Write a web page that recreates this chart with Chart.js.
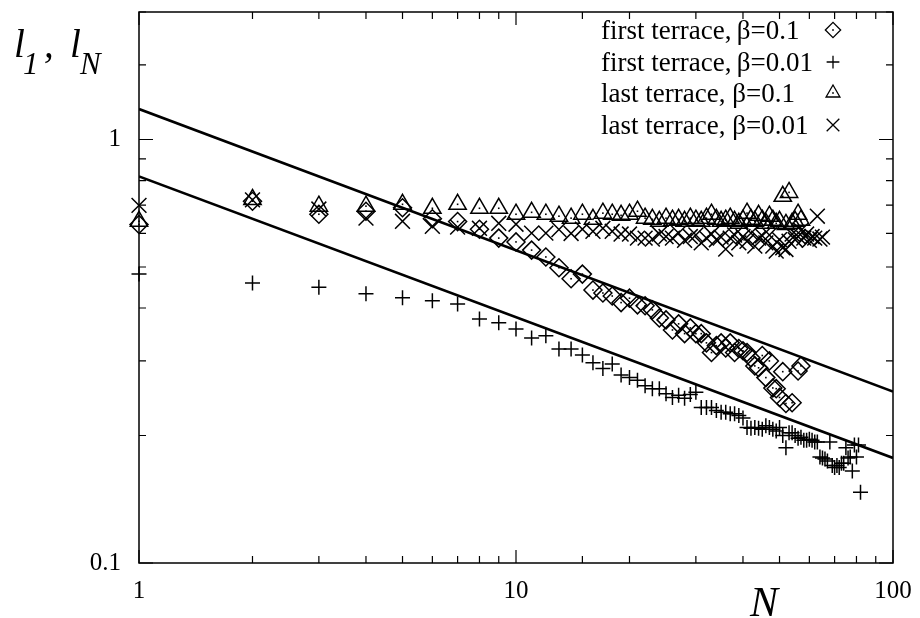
<!DOCTYPE html>
<html>
<head>
<meta charset="utf-8">
<script src="https://cdn.jsdelivr.net/npm/chart.js@4.4.0/dist/chart.umd.min.js"></script>
<style>
  html, body { margin: 0; padding: 0; background: #fff; }
</style>
</head>
<body>
<canvas id="myChart" width="920" height="618"></canvas>
<script>
// values indexed by N-1 (N = 1, 2, 3, ...), null where no point is visible
const firstB01 = [0.63, 0.715, 0.666, 0.677, 0.69, 0.65, 0.64, 0.614, 0.585, 0.573,
  0.548, 0.528, 0.498, 0.469, 0.481, 0.441, 0.434, 0.427, 0.412, 0.422,
  0.407, 0.405, 0.396, 0.379, 0.375, 0.355, 0.367, 0.348, 0.359, 0.348,
  0.348, 0.331, 0.314, 0.326, 0.331, 0.322, 0.331, 0.314, 0.321, 0.317,
  0.314, 0.305, 0.292, 0.289, 0.309, 0.274, 0.300, 0.259, 0.258, 0.246,
  0.283, 0.238, null, 0.239, null, 0.284, 0.292];

const firstB001 = [0.481, 0.458, 0.448, 0.432, 0.423, 0.416, 0.409, 0.377, 0.369, 0.357,
  0.340, 0.344, 0.320, 0.320, 0.310, 0.297, 0.288, 0.295, 0.278, 0.274,
  0.270, 0.262, 0.258, 0.258, 0.251, 0.246, 0.249, 0.245, 0.250, 0.253,
  0.233, 0.233, 0.233, 0.229, 0.227, 0.227, 0.225, 0.225, 0.223, 0.220,
  0.209, 0.208, 0.209, 0.208, 0.207, 0.211, 0.209, 0.207, 0.205, 0.209,
  0.200, 0.187, 0.203, 0.203, 0.200, 0.197, 0.198, 0.195, 0.195, 0.196,
  0.195, 0.193, 0.193, 0.178, 0.177, 0.176, 0.174, 0.193, 0.170, 0.168,
  0.170, 0.168, 0.172, 0.172, 0.187, 0.177, 0.178, 0.165, 0.190, 0.178,
  0.190, 0.147];

const lastB01 = [0.641, 0.722, 0.696, 0.696, 0.703, 0.688, 0.703, 0.688, 0.688, 0.666,
  0.673, 0.666, 0.659, 0.652, 0.666, 0.648, 0.670, 0.666, 0.662, 0.666,
  0.677, 0.652, 0.648, 0.641, 0.652, 0.645, 0.648, 0.641, 0.652, 0.645,
  0.641, 0.652, 0.666, 0.648, 0.641, 0.645, 0.652, 0.641, 0.634, 0.645,
  0.670, 0.648, 0.641, 0.662, 0.645, 0.634, 0.659, 0.645, 0.634, 0.641,
  0.734, 0.630, 0.750, 0.634, 0.641, 0.666, 0.645];

const lastB001 = [0.699, 0.720, 0.685, 0.652, 0.641, 0.624, 0.621, 0.617, 0.634, 0.631,
  0.601, 0.601, 0.613, 0.600, 0.614, 0.607, 0.617, 0.607, 0.598, 0.598,
  0.585, 0.585, 0.582, 0.598, 0.590, 0.585, 0.601, 0.578, 0.590, 0.595,
  0.570, 0.585, 0.598, 0.580, 0.588, 0.551, 0.585, 0.595, 0.570, 0.590,
  0.575, 0.601, 0.560, 0.585, 0.592, 0.570, 0.595, 0.560, 0.545, 0.580,
  0.555, 0.550, 0.575, 0.598, 0.580, 0.590, 0.610, 0.585, 0.598, 0.578,
  0.590, 0.585, 0.659, 0.582, 0.588];

// two power-law guide lines, read at N = 1 and N = 100
const fitN = [1, 100];
const fitUpper = [1.18, 0.254];
const fitLower = [0.818, 0.177];

const legendLabels = ["first terrace,\u2009\u03b2=0.1", "first terrace,\u2009\u03b2=0.01",
  "last terrace, \u03b2=0.1", "last terrace, \u03b2=0.01"];

const serif = "'Liberation Serif', 'Times New Roman', serif";

function toPoints(arr) {
  return arr.map((v, i) => (v == null ? null : { x: i + 1, y: v })).filter(p => p);
}
function isDecade(v) {
  const l = Math.log10(v);
  return Math.abs(l - Math.round(l)) < 1e-9;
}

const markerSets = [
  { label: legendLabels[0], data: toPoints(firstB01), pointStyle: "rectRot", pointRadius: 9, centerDot: true },
  { label: legendLabels[1], data: toPoints(firstB001), pointStyle: "cross", pointRadius: 7.5 },
  { label: legendLabels[2], data: toPoints(lastB01), pointStyle: "triangle", pointRadius: 10, centerDot: true },
  { label: legendLabels[3], data: toPoints(lastB001), pointStyle: "crossRot", pointRadius: 10.5 },
].map(d => Object.assign({
  showLine: false,
  borderColor: "#000",
  backgroundColor: "rgba(0,0,0,0)",
  pointBorderWidth: 1.5,
  pointHoverRadius: 0,
  clip: false,
}, d));

const fitSets = [fitUpper, fitLower].map(vals => ({
  label: "",
  data: fitN.map((n, i) => ({ x: n, y: vals[i] })),
  showLine: true,
  borderColor: "#000",
  borderWidth: 2.6,
  pointRadius: 0,
}));

// frame, inward ticks, axis titles, legend and centre dots
const decorations = {
  id: "decorations",
  afterDatasetsDraw(chart) {
    const ctx = chart.ctx;
    ctx.save();
    ctx.fillStyle = "#000";
    chart.data.datasets.forEach((ds, i) => {
      if (!ds.centerDot) return;
      chart.getDatasetMeta(i).data.forEach(el => ctx.fillRect(el.x - 0.8, el.y - 0.8, 1.6, 1.6));
    });
    ctx.restore();
  },
  afterDraw(chart) {
    const ctx = chart.ctx;
    const a = chart.chartArea;
    const xs = chart.scales.x, ys = chart.scales.y;
    ctx.save();
    ctx.strokeStyle = "#000";
    ctx.lineWidth = 1.5;
    ctx.strokeRect(a.left, a.top, a.right - a.left, a.bottom - a.top);

    ctx.lineWidth = 1.2;
    ctx.beginPath();
    xs.ticks.forEach(t => {
      const px = xs.getPixelForValue(t.value);
      const len = isDecade(t.value) ? 13 : 7;
      ctx.moveTo(px, a.bottom); ctx.lineTo(px, a.bottom - len);
      ctx.moveTo(px, a.top); ctx.lineTo(px, a.top + len);
    });
    ys.ticks.forEach(t => {
      const py = ys.getPixelForValue(t.value);
      const len = isDecade(t.value) ? 14 : 7;
      ctx.moveTo(a.left, py); ctx.lineTo(a.left + len, py);
      ctx.moveTo(a.right, py); ctx.lineTo(a.right - len, py);
    });
    ctx.stroke();

    // axis titles
    ctx.fillStyle = "#000";
    ctx.textBaseline = "alphabetic";
    ctx.textAlign = "left";
    const big = "italic 39px " + serif, sub = "italic 31px " + serif;
    ctx.font = big; ctx.fillText("l", 14, 57);
    ctx.font = sub; ctx.fillText("1", 23, 74);
    ctx.font = big; ctx.fillText(",", 44, 57);
    ctx.fillText("l", 70, 57);
    ctx.font = sub; ctx.fillText("N", 80, 74);
    ctx.font = "italic 42px " + serif;
    ctx.fillText("N", 750, 616);

    // legend
    ctx.font = "27px " + serif;
    const rows = [30, 62, 93, 125];
    markerSets.forEach((ds, i) => {
      ctx.fillStyle = "#000";
      ctx.fillText(ds.label, 601, rows[i] + 9);
      ctx.fillStyle = "rgba(0,0,0,0)";
      ctx.strokeStyle = "#000";
      ctx.lineWidth = 1.3;
      Chart.helpers.drawPoint(ctx, {
        pointStyle: ds.pointStyle,
        radius: ds.pointStyle === "triangle" ? 8 : ds.pointRadius * 0.85,
        rotation: 0,
        borderWidth: 1.3,
      }, 833, rows[i]);
      ctx.fillStyle = "#000";
      if (ds.centerDot) ctx.fillRect(832.2, rows[i] - 0.8, 1.6, 1.6);
    });
    ctx.restore();
  },
};

new Chart(document.getElementById("myChart").getContext("2d"), {
  type: "scatter",
  data: { datasets: [...fitSets, ...markerSets] },
  options: {
    responsive: false,
    animation: false,
    events: [],
    layout: { padding: { top: 11, right: 27, left: 0, bottom: 0 } },
    plugins: { legend: { display: false }, tooltip: { enabled: false } },
    scales: {
      x: {
        type: "logarithmic",
        min: 1,
        max: 100,
        grid: { display: false },
        border: { display: false },
        ticks: {
          autoSkip: false,
          maxRotation: 0,
          padding: 5,
          color: "#000",
          font: { family: serif, size: 25 },
          callback: v => (isDecade(v) ? String(v) : ""),
        },
        afterFit: s => { s.height = 55; s.paddingLeft = 0; s.paddingRight = 0; },
      },
      y: {
        type: "logarithmic",
        min: 0.1,
        max: 2,
        grid: { display: false },
        border: { display: false },
        ticks: {
          autoSkip: false,
          padding: 10,
          color: "#000",
          font: { family: serif, size: 25 },
          callback: v => (isDecade(v) ? String(v) : ""),
        },
        afterFit: s => { s.width = 139; s.paddingTop = 0; s.paddingBottom = 0; },
      },
    },
  },
  plugins: [decorations],
});
</script>
</body>
</html>
